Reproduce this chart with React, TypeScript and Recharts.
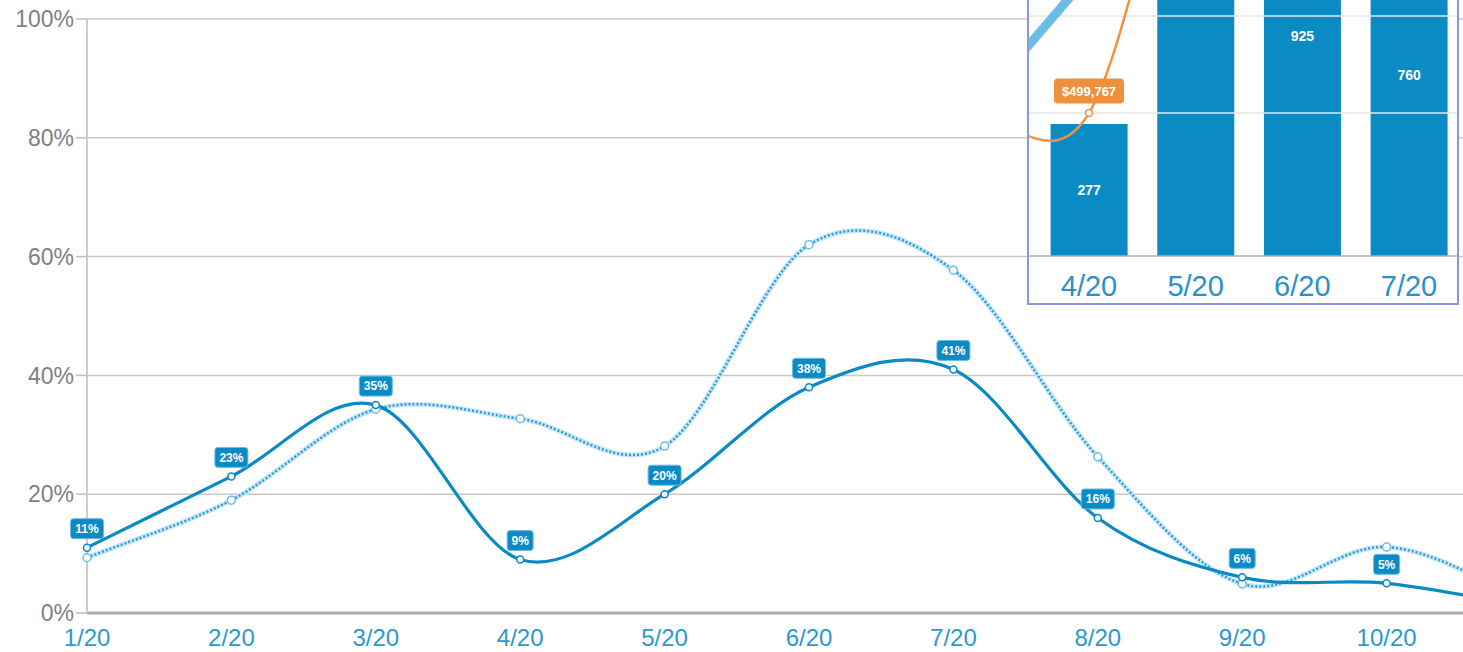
import React from "react";
import {
  LineChart,
  Line,
  XAxis,
  YAxis,
  CartesianGrid,
  LabelList,
  ComposedChart,
  Bar,
  ReferenceLine,
} from "recharts";

// monthly share series
const months = ["1/20", "2/20", "3/20", "4/20", "5/20", "6/20", "7/20", "8/20", "9/20", "10/20", "11/20"];
const currentShare = [11, 23, 35, 9, 20, 38, 41, 16, 6, 5, 1];
const priorShare = [9.3, 19, 34.3, 32.7, 28.1, 62, 57.7, 26.3, 4.9, 11.1, 2];
const pctTicks = [0, 20, 40, 60, 80, 100];

// detail panel series
const detailMonths = ["3/20", "4/20", "5/20", "6/20", "7/20", "8/20"];
const detailCounts = [310, 277, 1180, 925, 760, 640];
const detailRevenue = [450000, 499767, 2250000, 3000000, 3200000, 3000000];
const detailTrend = [572000, 1211000, 1850000, 2400000, 2900000, 3300000];

const shareData = months.map((m, i) => ({ month: m, current: currentShare[i], prior: priorShare[i] }));
const detailData = detailMonths.map((m, i) => ({
  month: m,
  count: detailCounts[i],
  revenue: detailRevenue[i],
  trend: detailTrend[i],
}));

const FONT = "'Liberation Sans', Arial, Helvetica, sans-serif";
const BLUE = "#0a8ac4";
const LIGHT_BLUE = "#2b9dd8";

// uniform Catmull-Rom spline, ends extended by reflection so the first
// and last segments start along their chord
const catmullRom = (context: any) => {
  let pts: [number, number][] = [];
  return {
    areaStart() {},
    areaEnd() {},
    lineStart() {
      pts = [];
    },
    lineEnd() {
      const n = pts.length;
      if (!n) return;
      context.moveTo(pts[0][0], pts[0][1]);
      if (n === 1) return;
      const at = (i: number): [number, number] => {
        if (i < 0) return [2 * pts[0][0] - pts[1][0], 2 * pts[0][1] - pts[1][1]];
        if (i >= n) return [2 * pts[n - 1][0] - pts[n - 2][0], 2 * pts[n - 1][1] - pts[n - 2][1]];
        return pts[i];
      };
      for (let i = 0; i < n - 1; i++) {
        const p0 = at(i - 1);
        const p1 = pts[i];
        const p2 = pts[i + 1];
        const p3 = at(i + 2);
        context.bezierCurveTo(
          p1[0] + (p2[0] - p0[0]) / 6,
          p1[1] + (p2[1] - p0[1]) / 6,
          p2[0] - (p3[0] - p1[0]) / 6,
          p2[1] - (p3[1] - p1[1]) / 6,
          p2[0],
          p2[1]
        );
      }
    },
    point(x: number, y: number) {
      pts.push([+x, +y]);
    },
  };
};

const PctTag = (props: any) => {
  const { x, y, value } = props;
  if (x == null || y == null || value == null) return null;
  const text = `${value}%`;
  const w = 12 + text.length * 7;
  const h = 20;
  const cy = y - 19;
  return (
    <g>
      <rect x={x - w / 2} y={cy - h / 2} width={w} height={h} rx={3} fill="#0b8bc5" stroke="#6bbbe2" strokeWidth={1} />
      <text x={x} y={cy} dy="0.36em" textAnchor="middle" fill="#fff" fontSize={12} fontWeight="bold" fontFamily={FONT}>
        {text}
      </text>
    </g>
  );
};

const RevenueTag = (props: any) => {
  const { x, y, value } = props;
  if (x == null || y == null || value == null) return null;
  const text = "$" + Number(value).toLocaleString("en-US");
  const w = 70;
  const h = 25;
  const cy = y - 22;
  return (
    <g>
      <rect x={x - w / 2} y={cy - h / 2} width={w} height={h} rx={4} fill="#ef913c" />
      <text x={x} y={cy} dy="0.36em" textAnchor="middle" fill="#fff" fontSize={13} fontWeight="bold" fontFamily={FONT}>
        {text}
      </text>
    </g>
  );
};

function DetailPanel() {
  return (
    <div
      style={{
        position: "absolute",
        left: 1027,
        top: -4,
        width: 432,
        height: 309,
        boxSizing: "border-box",
        border: "2px solid #8497e2",
        background: "#fff",
        overflow: "hidden",
      }}
    >
      <div style={{ position: "absolute", left: -100, top: -409 }}>
        <ComposedChart width={640} height={717} data={detailData} margin={{ top: 0, right: 0, bottom: 0, left: 0 }} barCategoryGap="14%">
          <XAxis
            dataKey="month"
            interval={0}
            height={50}
            tickLine={false}
            tickMargin={13}
            axisLine={{ stroke: "#b0b0b0", strokeWidth: 1.5 }}
            tick={{ fill: "#2b90c8", fontSize: 29, fontFamily: FONT }}
          />
          <YAxis yAxisId="count" hide domain={[0, 1400]} allowDataOverflow />
          <YAxis yAxisId="rev" hide domain={[-237000, 3201000]} allowDataOverflow />
          <ReferenceLine yAxisId="rev" y={500000} stroke="#e6e6e6" strokeWidth={1.5} />
          <ReferenceLine yAxisId="rev" y={1000000} stroke="#e6e6e6" strokeWidth={1.5} />
          <Line
            yAxisId="rev"
            dataKey="trend"
            type="linear"
            stroke="#6cbde6"
            strokeWidth={9}
            dot={false}
            isAnimationActive={false}
          />
          <Bar yAxisId="count" dataKey="count" fill="#0a8bc4" isAnimationActive={false}>
            <LabelList
              dataKey="count"
              position="center"
              fill="#fff"
              fontSize={14}
              fontWeight="bold"
              fontFamily={FONT}
            />
          </Bar>
          <Line
            yAxisId="rev"
            dataKey="revenue"
            type={catmullRom as any}
            stroke="#ee9440"
            strokeWidth={2.5}
            dot={{ r: 3.5, fill: "#fff", stroke: "#ee9440", strokeWidth: 1.5 }}
            isAnimationActive={false}
          >
            <LabelList dataKey="revenue" content={<RevenueTag />} />
          </Line>
        </ComposedChart>
      </div>
    </div>
  );
}

export default function App() {
  return (
    <div
      style={{
        position: "absolute",
        left: 0,
        top: 0,
        width: 1463,
        height: 652,
        overflow: "hidden",
        background: "#fff",
        fontFamily: FONT,
      }}
    >
      <LineChart width={1560} height={652} data={shareData} margin={{ top: 19, right: 29, bottom: 0, left: 0 }}>
        <CartesianGrid vertical={false} stroke="#c8c8c8" strokeWidth={1.5} />
        <XAxis
          dataKey="month"
          interval={0}
          height={39}
          tickLine={false}
          tickMargin={10}
          axisLine={{ stroke: "#ababab", strokeWidth: 3 }}
          tick={{ fill: "#2c98cf", fontSize: 24, fontFamily: FONT }}
        />
        <YAxis
          width={87}
          domain={[0, 100]}
          ticks={pctTicks}
          tickFormatter={(v: number) => `${v}%`}
          tickSize={11}
          tickMargin={2}
          tickLine={{ stroke: "#bdbdbd", strokeWidth: 1.5 }}
          axisLine={{ stroke: "#cccccc", strokeWidth: 2 }}
          tick={{ fill: "#808080", fontSize: 23, fontFamily: FONT }}
        />
        <Line
          dataKey="prior"
          type={catmullRom as any}
          stroke="#c9e7f5"
          strokeWidth={5}
          dot={{ r: 4, fill: "#fff", stroke: "#6bbde4", strokeWidth: 1.5 }}
          isAnimationActive={false}
        />
        <Line
          dataKey="prior"
          type={catmullRom as any}
          stroke={LIGHT_BLUE}
          strokeWidth={2.5}
          strokeDasharray="2 2"
          dot={false}
          isAnimationActive={false}
        />
        <Line
          dataKey="current"
          type={catmullRom as any}
          stroke={BLUE}
          strokeWidth={3.2}
          dot={{ r: 3.5, fill: "#fff", stroke: BLUE, strokeWidth: 1.5 }}
          isAnimationActive={false}
        >
          <LabelList dataKey="current" content={<PctTag />} />
        </Line>
      </LineChart>
      <DetailPanel />
    </div>
  );
}
